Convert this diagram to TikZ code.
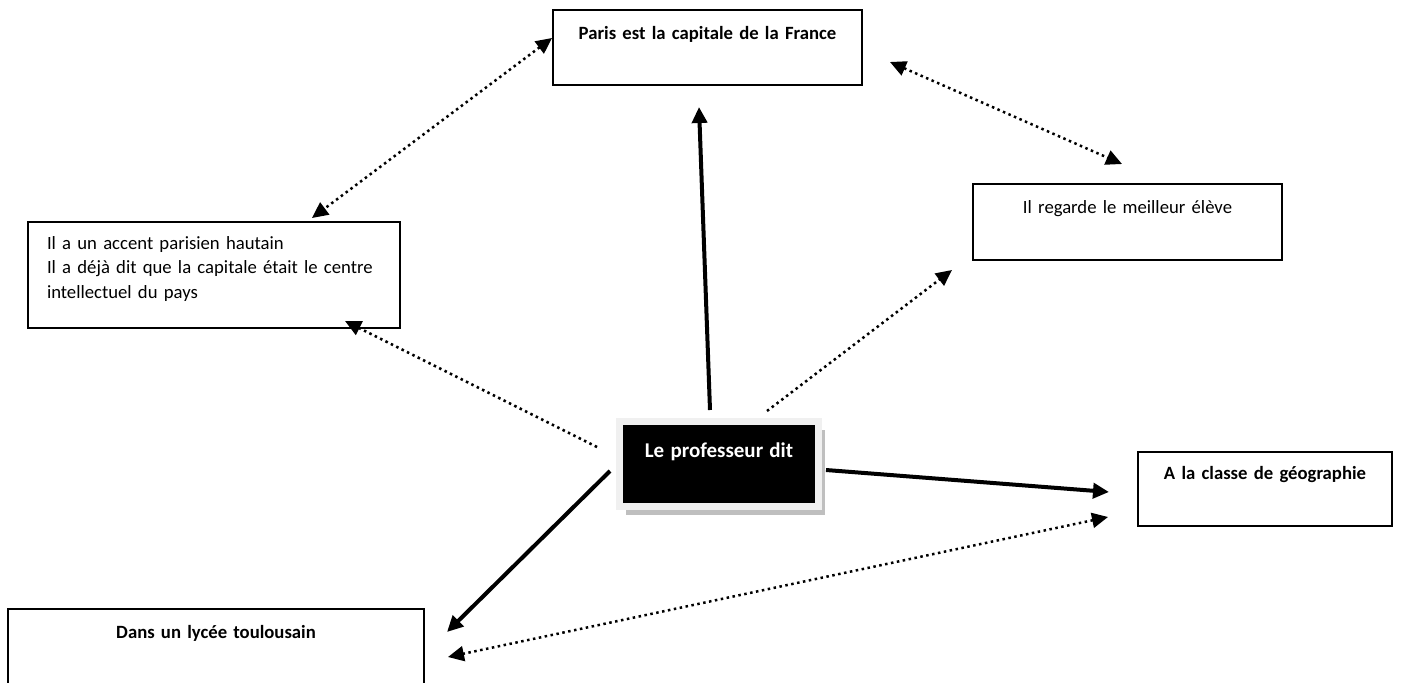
\documentclass[tikz,border=0pt]{standalone}
\usepackage{fontspec}
\setmainfont{Carlito}
\usetikzlibrary{arrows.meta,calc,shadows}

\begin{document}
\begin{tikzpicture}[x=1pt,y=-1pt,
	every node/.style={font=\fontsize{18.7pt}{24.5pt}\selectfont},
	boite/.style={draw,line width=2.2pt,anchor=north west,inner sep=0pt,outer sep=0pt,align=center},
	plein/.style={line width=4pt},
	pointille/.style={line width=2.5pt,dash pattern=on 2.5pt off 3.5pt},
	>={Triangle[length=16pt,width=15pt]}]
	\useasboundingbox (0,0) rectangle (1417,683);
	% les cadres
	\node[boite, text width=309pt, text height=29pt, text depth=46pt] (paris) at (553,10) {\textbf{Paris est la capitale de la France}};
	\node[boite, inner xsep=19pt, align=left, text width=334pt, text height=27pt, text depth=79pt] (gauche) at (28,222) {Il a un accent parisien hautain\\Il a déjà dit que la capitale était le centre\\intellectuel du pays};
	\node[boite, text width=309pt, text height=29pt, text depth=47pt] (regarde) at (973,184) {Il regarde le meilleur élève};
	\node[boite, text width=254pt, text height=27pt, text depth=47pt] (classe) at (1138,452) {\textbf{A la classe de géographie}};
	\node[boite, text width=416pt, text height=29pt, text depth=71pt] (lycee) at (8,609) {\textbf{Dans un lycée toulousain}};
	% le noeud central
	\node[fill=black, draw=gray!12, line width=7pt, anchor=north west, inner sep=0pt, outer sep=0pt,
		drop shadow={shadow xshift=6.5pt, shadow yshift=-8.5pt, fill=gray!50, opacity=1},
		text width=199pt, align=center, text height=35.5pt, text depth=49.5pt, text=white] (prof) at (619.5,421.5)
		{\fontsize{21pt}{25pt}\selectfont\bfseries Le professeur dit};
	% les fleches
	\draw[plein,->] ($(prof.north)+(-9,-11.5)$) -- ($(paris.south)+(-8.5,22)$);
	\draw[plein,->] ($(prof.east)+(7.5,6)$) -- ($(classe.west)+(-29,3)$);
	\draw[plein,->] ($(prof.west)+(-9.5,7)$) -- ($(lycee.north east)+(23,23)$);
	\draw[pointille,<->] ($(paris.west)+(-1,-9.5)$) -- ($(gauche.north west)+(284,-4)$);
	\draw[pointille,<->] ($(paris.east)+(28,14.5)$) -- ($(regarde.north)+(-5.5,-20)$);
	\draw[pointille,->] ($(prof.north)+(48,-10.5)$) -- ($(regarde.south west)+(-21,10)$);
	\draw[pointille,->] ($(prof.west)+(-22.5,-17)$) -- ($(gauche.south west)+(317,-7)$);
	\draw[pointille,<->] ($(classe.west)+(-30,28)$) -- ($(lycee.north east)+(24,48)$);
\end{tikzpicture}
\end{document}
